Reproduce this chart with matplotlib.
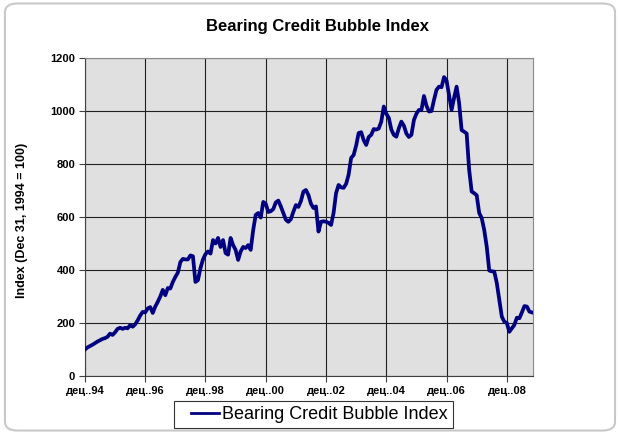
import matplotlib
matplotlib.use("Agg")
import matplotlib.pyplot as plt
from matplotlib.patches import FancyBboxPatch

# monthly index values, Dec 1994 .. Oct 2009
index_values = [
    100, 108, 113, 118, 124, 130, 135, 140, 143, 148, 160, 155,
    165, 178, 182, 178, 182, 180, 192, 186, 195, 210, 228, 242,
    240, 255, 260, 238, 262, 280, 300, 325, 305, 332, 330, 355,
    374, 390, 430, 442, 440, 440, 455, 452, 355, 362, 407, 440,
    460, 470, 462, 513, 500, 521, 487, 513, 464, 458, 521, 494,
    476, 438, 470, 487, 483, 494, 476, 551, 608, 615, 598, 657,
    650, 619, 622, 630, 655, 662, 640, 615, 590, 582, 592, 620,
    645, 638, 660, 696, 702, 683, 650, 634, 640, 545, 582, 584,
    582, 578, 570, 615, 690, 721, 712, 710, 725, 760, 823, 834,
    870, 917, 920, 890, 872, 902, 910, 932, 930, 934, 960, 1017,
    990, 974, 930, 910, 903, 935, 960, 945, 915, 902, 910, 966,
    990, 1004, 1004, 1057, 1020, 998, 1000, 1042, 1080, 1092, 1090, 1128,
    1115, 1060, 1004, 1050, 1092, 1030, 928, 922, 915, 778, 696, 690,
    682, 615, 596, 551, 488, 398, 395, 394, 351, 287, 224, 205,
    200, 167, 180, 193, 220, 218, 240, 264, 262, 243, 240,
]
tick_labels = ["дец..94", "дец..96", "дец..98", "дец..00",
               "дец..02", "дец..04", "дец..06", "дец..08"]
y_ticks = [0, 200, 400, 600, 800, 1000, 1200]
series_name = "Bearing Credit Bubble Index"

plt.rcParams["font.family"] = ["Liberation Sans", "DejaVu Sans"]

fig = plt.figure(figsize=(6.2, 4.34), dpi=100)
fig.patch.set_facecolor("white")

# rounded frame around the whole chart
frame = FancyBboxPatch((0.008, 0.008), 0.984, 0.984,
                       boxstyle="round,pad=0,rounding_size=0.02",
                       transform=fig.transFigure, facecolor="none",
                       edgecolor="#c8c8c8", linewidth=1.5, zorder=-1)
fig.patches.append(frame)

ax = fig.add_axes([0.137, 0.1336, 0.723, 0.7327])
ax.set_facecolor("#e0e0e0")

months = list(range(len(index_values)))
ax.plot(months, index_values, color="#000080", linewidth=2.7,
        solid_joinstyle="round", label=series_name, zorder=3)

ax.set_xlim(0, len(index_values) - 0.5)
ax.set_ylim(0, 1200)
ax.set_xticks(range(0, 24 * len(tick_labels), 24))
ax.set_xticklabels(tick_labels, fontsize=8, fontweight="bold")
ax.set_yticks(y_ticks)
ax.set_yticklabels([str(v) for v in y_ticks], fontsize=8, fontweight="bold")
ax.tick_params(axis="both", length=4, width=0.8, color="#404040", pad=3)
ax.grid(True, color="#202020", linewidth=0.8)
ax.set_axisbelow(True)
for side in ["top", "right"]:
    ax.spines[side].set_color("#8a8a8a")
for side in ["left", "bottom"]:
    ax.spines[side].set_color("#404040")

fig.text(0.036, 0.493, "Index (Dec 31, 1994 = 100)", rotation=90,
         ha="center", va="center", fontsize=9, fontweight="bold")
fig.text(0.512, 0.94, "Bearing Credit Bubble Index", ha="center",
         va="center", fontsize=12, fontweight="bold")

leg = fig.legend(loc="center", bbox_to_anchor=(0.505, 0.045), fontsize=13,
                 frameon=True, fancybox=False, handlelength=2.2,
                 handletextpad=0.15, borderpad=0.3)
leg.get_frame().set_edgecolor("black")
leg.get_frame().set_linewidth(0.8)
# the legend's line sample sits in the right part of the handle area
handle = leg.get_lines()[0]
xs = handle.get_xdata()
ys = handle.get_ydata()
handle.set_data([xs[0] + 0.3 * (xs[-1] - xs[0]), xs[-1]], [ys[0], ys[-1]])
handle.set_linewidth(2.0)

fig.savefig("out.png", dpi=100)
